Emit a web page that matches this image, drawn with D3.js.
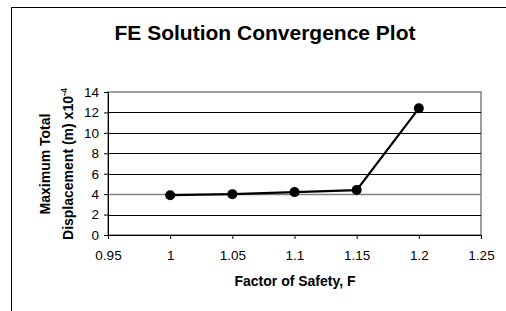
<!DOCTYPE html>
<html>
<head>
<meta charset="utf-8">
<script src="https://cdn.jsdelivr.net/npm/d3@7"></script>
<style>
  body { margin: 0; background: #fff; overflow: hidden; }
  svg { display: block; font-family: "Liberation Sans", Arial, sans-serif; }
</style>
</head>
<body>
<svg id="chart" width="506" height="311"></svg>
<script>
// data
const factorOfSafety = [1, 1.05, 1.1, 1.15, 1.2];
const maxDisplacement = [3.9, 4.0, 4.2, 4.4, 12.4];
const xTicks = [0.95, 1, 1.05, 1.1, 1.15, 1.2, 1.25];
const yTicks = [0, 2, 4, 6, 8, 10, 12, 14];

const margin = { top: 92, right: 25, bottom: 76, left: 108 };
const width = 506 - margin.left - margin.right;
const height = 311 - margin.top - margin.bottom;

const svg = d3.select("#chart");

// outer frame of the chart
svg.append("rect")
    .attr("x", 11.5).attr("y", 7.5)
    .attr("width", 520).attr("height", 320)
    .attr("fill", "none").attr("stroke", "#000").attr("stroke-width", 1);

svg.append("text")
    .attr("x", 265).attr("y", 40)
    .attr("text-anchor", "middle")
    .attr("font-size", 21).attr("font-weight", "bold")
    .text("FE Solution Convergence Plot");

const xScale = d3.scaleLinear().domain([0.95, 1.25]).range([0, width]);
const yScale = d3.scaleLinear().domain([0, 14]).range([height, 0]);

const chart = svg.append("g")
    .attr("transform", `translate(${margin.left},${margin.top})`);

// plot area border (gray)
chart.append("rect")
    .attr("x", 0).attr("y", 0)
    .attr("width", width).attr("height", height)
    .attr("fill", "none").attr("stroke", "#808080").attr("stroke-width", 1.5);

// gridlines
chart.selectAll(".grid")
    .data(yTicks.filter(d => d > 0 && d < 14))
    .enter().append("line")
    .attr("class", "grid")
    .attr("x1", 0).attr("x2", width)
    .attr("y1", d => Math.round(yScale(d)) + 0.5)
    .attr("y2", d => Math.round(yScale(d)) + 0.5)
    .attr("stroke", d => d === 4 ? "#808080" : "#000")
    .attr("stroke-width", d => d === 4 ? 1.5 : 1);

const xAxis = d3.axisBottom(xScale)
    .tickValues(xTicks)
    .tickFormat(d => d3.format("")(+d.toFixed(2)))
    .tickSizeOuter(0).tickSize(4).tickPadding(11);
const yAxis = d3.axisLeft(yScale)
    .tickValues(yTicks)
    .tickSizeOuter(0).tickSize(4).tickPadding(5);

const gx = chart.append("g")
    .attr("transform", `translate(0,${height})`)
    .call(xAxis);
const gy = chart.append("g").call(yAxis);

[gx, gy].forEach(g => {
    g.selectAll("text").attr("font-size", 13.5).attr("fill", "#000")
        .attr("font-family", "'Liberation Sans', Arial, sans-serif");
    g.selectAll("line, path").attr("stroke", "#000");
});

// axis titles
svg.append("text")
    .attr("x", 295).attr("y", 286)
    .attr("text-anchor", "middle")
    .attr("font-size", 14).attr("font-weight", "bold")
    .text("Factor of Safety, F");

const yTitle = svg.append("g")
    .attr("transform", "translate(0,164) rotate(-90)");
yTitle.append("text")
    .attr("x", 0).attr("y", 50)
    .attr("text-anchor", "middle")
    .attr("font-size", 14).attr("font-weight", "bold")
    .text("Maximum Total");
const line2 = yTitle.append("text")
    .attr("x", 0).attr("y", 73)
    .attr("text-anchor", "middle")
    .attr("font-size", 14).attr("font-weight", "bold");
line2.append("tspan").text("Displacement (m) x10");
line2.append("tspan").attr("dy", -6).attr("font-size", 9).text("-4");

// series
const pts = factorOfSafety.map((f, i) => [f, maxDisplacement[i]]);
chart.append("path")
    .datum(pts)
    .attr("fill", "none")
    .attr("stroke", "#000").attr("stroke-width", 2.2)
    .attr("d", d3.line().x(d => xScale(d[0])).y(d => yScale(d[1])));

chart.selectAll(".dot")
    .data(pts)
    .enter().append("circle")
    .attr("class", "dot")
    .attr("cx", d => xScale(d[0]))
    .attr("cy", d => yScale(d[1]))
    .attr("r", 5)
    .attr("fill", "#000");
</script>
</body>
</html>
